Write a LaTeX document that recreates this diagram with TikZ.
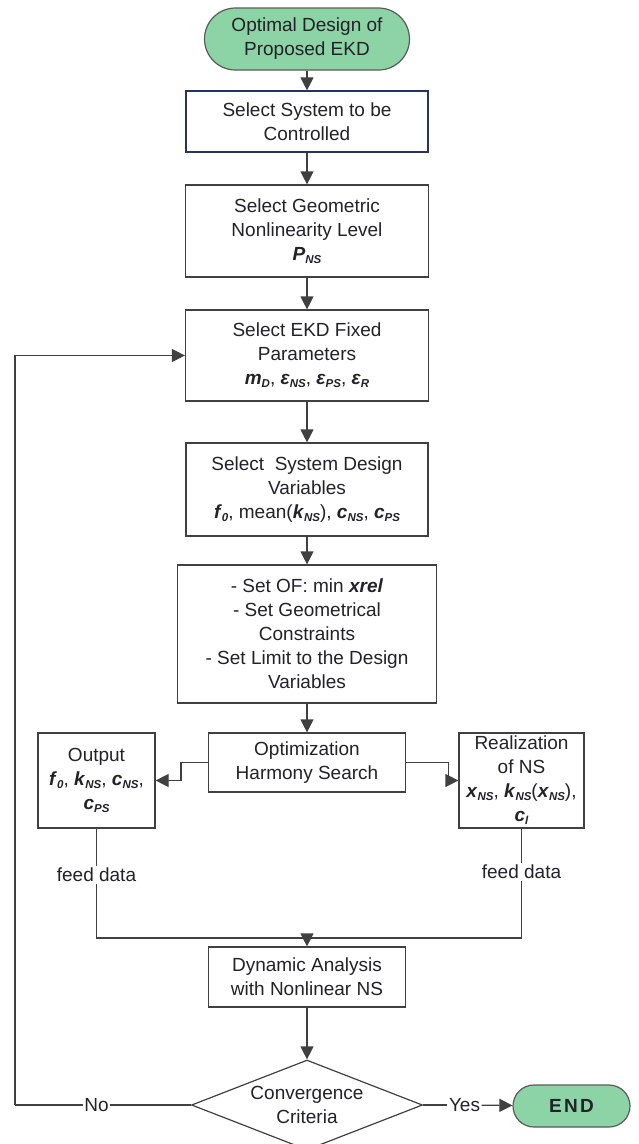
\documentclass[tikz,border=0pt]{standalone}
\usepackage{fontspec}
\setmainfont{Liberation Sans}
\usepackage{tikz}
\usetikzlibrary{
    arrows.meta,
    positioning,
    shapes.geometric
}
\newcommand{\flowfont}{\fontsize{19}{24}\selectfont}
\newcommand{\bi}[1]{\textbf{\textit{#1}}}
\newcommand{\sbi}[1]{\raisebox{-0.3ex}{\fontsize{11.5}{12}\selectfont\bfseries\itshape #1}}
\tikzset{
  block/.style   = {draw=lineGray, line width=1.2pt, fill=white, align=center,
                    inner sep=0pt, font=\flowfont, text=txtDark},
  term/.style    = {block, fill=termGreen, draw=edgeGray},
  decide/.style  = {block, diamond, aspect=2.5, minimum width=231pt,
                    minimum height=90pt},
  lbl/.style     = {fill=white, inner sep=1.5pt, font=\flowfont, text=txtDark},
  line/.style    = {draw=lineGray, line width=1.2pt},
  arr/.style     = {line, -{Triangle[length=13pt, width=13pt]}}
}
\definecolor{termGreen}{RGB}{140,211,165}
\definecolor{edgeGray}{RGB}{90,90,90}
\definecolor{lineGray}{RGB}{64,64,64}
\definecolor{txtDark}{RGB}{34,34,40}
\definecolor{navyEdge}{RGB}{38,52,92}

\begin{document}
\begin{tikzpicture}[x=1pt, y=-1pt]
  \useasboundingbox (0,0) rectangle (639,1144);

  % main column
  \node[term, rounded corners=31pt, minimum width=205pt, minimum height=62pt]
        (start) at (307,39) {Optimal Design of\\Proposed EKD};
  \node[block, draw=navyEdge, minimum width=242pt, minimum height=61pt]
        (sys) at (307,121.5) {Select System to be\\Controlled};
  \node[block, minimum width=243pt, minimum height=92pt]
        (geo) at (307,231) {Select Geometric\\Nonlinearity Level\\\bi{P}\sbi{NS}};
  \node[block, minimum width=243pt, minimum height=91pt]
        (fixed) at (307,355.5) {Select EKD Fixed\\Parameters\\
        \bi{m}\sbi{D}, \bi{ε}\sbi{NS}, \bi{ε}\sbi{PS}, \bi{ε}\sbi{R}};
  \node[block, minimum width=242pt, minimum height=93pt]
        (vars) at (307,489.5) {Select\ \ System Design\\Variables\\
        \bi{f}\sbi{0}, mean(\bi{k}\sbi{NS}), \bi{c}\sbi{NS}, \bi{c}\sbi{PS}};
  \node[block, minimum width=259pt, minimum height=138pt]
        (obj) at (307,634) {- Set OF: min \bi{xrel}\\- Set Geometrical\\Constraints\\
        - Set Limit to the Design\\Variables};
  \node[block, minimum width=197pt, minimum height=59pt]
        (opt) at (307,762.5) {Optimization\\Harmony Search};

  % side boxes
  \node[block, minimum width=117pt, minimum height=95pt]
        (out) at (96.5,780.5) {Output\\\bi{f}\sbi{0}, \bi{k}\sbi{NS}, \bi{c}\sbi{NS},\\\bi{c}\sbi{PS}};
  \node[block, minimum width=125pt, minimum height=95pt]
        (real) at (521.5,780.5) {Realization\\of NS\\
        \bi{x}\sbi{NS}, \bi{k}\sbi{NS}(\bi{x}\sbi{NS}),\\\bi{c}\sbi{l}};

  \node[lbl] (feedL) at (96.5,875) {feed data};
  \node[lbl] (feedR) at (521.5,872) {feed data};
  \coordinate (join) at (307,938);

  \node[block, minimum width=197pt, minimum height=60pt]
        (dyn) at (307,977) {Dynamic Analysis\\with Nonlinear NS};
  \node[decide] (conv) at (307,1105) {Convergence\\Criteria};
  \node[term, rounded corners=21pt, minimum width=117pt, minimum height=42pt]
        (stop) at (571.5,1106) {\bfseries\addfontfeature{LetterSpace=12}END};

  \node[lbl] (yes) at (464.5,1105) {Yes};
  \node[lbl] (no)  at (96.5,1105) {No};
  \coordinate (back) at (15,1105);

  % connectors
  \draw[arr] (start) -- (sys);
  \draw[arr] (sys)   -- (geo);
  \draw[arr] (geo)   -- (fixed);
  \draw[arr] (fixed) -- (vars);
  \draw[arr] (vars)  -- (obj);
  \draw[arr] (obj)   -- (opt);

  \draw[arr] (opt.west) -- ++(-27,0) |- (out.east);
  \draw[arr] (opt.east) -- ++(42,0) |- (real.west);

  \draw[line] (out)  -- (feedL) |- (join);
  \draw[line] (real) -- (feedR) |- (join);
  \draw[arr]  (join) -- (dyn);

  \draw[arr] (dyn) -- (conv);
  \draw[line] (conv.east) -- (yes);
  \draw[arr] (yes) -- (stop);
  \draw[line] (conv.west) -- (no) -- (back);
  \draw[arr] (back) |- (fixed.west);
\end{tikzpicture}
\end{document}
